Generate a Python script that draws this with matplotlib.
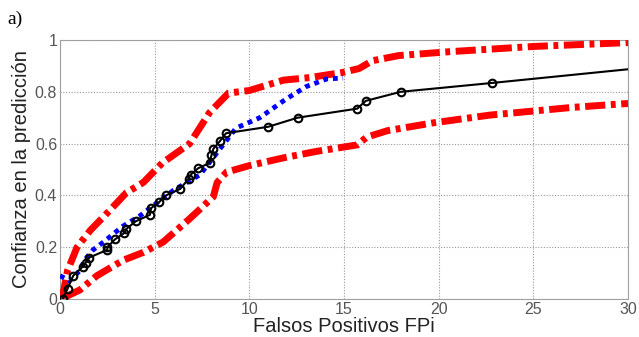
import matplotlib
matplotlib.use("Agg")
import matplotlib.pyplot as plt

# black line: observed points
fp_obs = [0.15, 0.4, 0.7, 1.2, 1.35, 1.55, 2.5, 2.5, 2.9, 3.4, 3.5, 4.0, 4.75, 4.8, 5.25,
          5.6, 6.35, 6.8, 6.9, 7.3, 7.9, 8.0, 8.1, 8.45, 8.77, 11.0, 12.55, 15.7, 16.15,
          18.0, 22.8]
conf_obs = [0.0, 0.04, 0.09, 0.125, 0.14, 0.16, 0.19, 0.2, 0.23, 0.255, 0.27, 0.30, 0.325,
            0.35, 0.375, 0.40, 0.425, 0.465, 0.48, 0.505, 0.525, 0.555, 0.58, 0.61, 0.64,
            0.665, 0.70, 0.735, 0.765, 0.80, 0.834]
fp_obs_end, conf_obs_end = 30.0, 0.887

# blue dotted: model fit
fp_fit = [0.0, 0.5, 1.05, 1.3, 1.75, 2.3, 3.3, 4.2, 5.1, 6.0, 7.4, 8.45, 9.3, 10.55,
          11.9, 13.0, 14.1, 14.95]
conf_fit = [0.09, 0.07, 0.11, 0.15, 0.19, 0.22, 0.28, 0.32, 0.37, 0.42, 0.48, 0.58, 0.66,
            0.70, 0.77, 0.82, 0.85, 0.853]

# red dash-dot: confidence bounds
fp_up = [0.0, 0.2, 0.4, 0.9, 1.6, 2.6, 3.5, 4.4, 5.4, 6.85, 7.9, 8.9, 10.0, 11.8, 13.2,
         14.95, 15.8, 16.5, 17.9, 20.6, 25.0, 30.0]
conf_up = [0.0, 0.035, 0.11, 0.2, 0.265, 0.34, 0.41, 0.45, 0.525, 0.60, 0.72, 0.795,
           0.805, 0.845, 0.855, 0.875, 0.89, 0.92, 0.94, 0.955, 0.975, 0.99]
fp_lo = [0.2, 1.05, 1.95, 3.35, 4.4, 5.45, 6.85, 8.1, 8.3, 8.8, 10.0, 11.8, 13.55, 15.7,
         16.2, 17.3, 19.7, 22.7, 27.1, 30.0]
conf_lo = [0.005, 0.035, 0.09, 0.15, 0.18, 0.22, 0.31, 0.395, 0.45, 0.49, 0.515, 0.545,
           0.57, 0.595, 0.625, 0.65, 0.68, 0.71, 0.74, 0.755]

plt.rcParams['font.family'] = ['Liberation Sans', 'DejaVu Sans']

fig = plt.figure(figsize=(6.39, 3.37), dpi=100)
ax = fig.add_axes([0.0939, 0.1128, 0.8889, 0.7685])

red_dash = (0, (2.9, 0.8, 0.7, 0.8))
ax.plot(fp_up, conf_up, color='red', lw=5, linestyle=red_dash, zorder=3)
ax.plot(fp_lo, conf_lo, color='red', lw=5, linestyle=red_dash, zorder=3)
ax.plot(fp_fit, conf_fit, color='blue', lw=3.5, linestyle=(0, (1, 1)), zorder=4)
ax.plot(fp_obs + [fp_obs_end], conf_obs + [conf_obs_end], color='black', lw=1.5, zorder=5)
ax.plot(fp_obs, conf_obs, 'o', color='black', mfc='none', ms=5.5, mew=1.5, zorder=6)

ax.set_xlim(0, 30)
ax.set_ylim(0, 1)
ax.set_xticks([0, 5, 10, 15, 20, 25, 30])
ax.set_yticks([0, 0.2, 0.4, 0.6, 0.8, 1])
ax.set_yticklabels(['0', '0.2', '0.4', '0.6', '0.8', '1'])
ax.grid(True, color='#9a9a9a', linestyle=(0, (1, 1.5)), lw=0.8)
for s in ax.spines.values():
    s.set_color('#a0a0a0')
ax.tick_params(colors='#555555', labelsize=11.5, length=0, pad=2)
ax.set_xlabel('Falsos Positivos FPi', fontsize=14.5, color='#222222', labelpad=0)
ax.set_ylabel('Confianza en la predicción', fontsize=14.5, color='#222222', labelpad=3)

fig.text(0.012, 0.93, 'a)', fontsize=14, family=['Liberation Serif', 'DejaVu Serif'])

fig.savefig('out.png', dpi=100)
